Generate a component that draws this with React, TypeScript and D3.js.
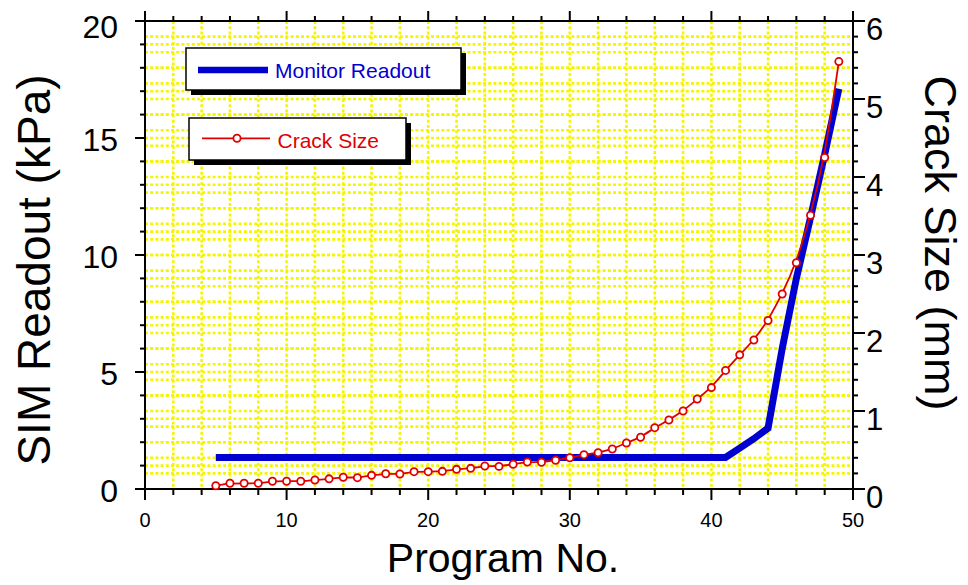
import React from "react";
import * as d3 from "d3";

const programNo = d3.range(5, 50);
const monitorReadout = [
  1.35, 1.35, 1.35, 1.35, 1.35, 1.35, 1.35, 1.35, 1.35, 1.35,
  1.35, 1.35, 1.35, 1.35, 1.35, 1.35, 1.35, 1.35, 1.35, 1.35,
  1.35, 1.35, 1.35, 1.35, 1.35, 1.35, 1.35, 1.35, 1.35, 1.35,
  1.35, 1.35, 1.35, 1.35, 1.35, 1.35, 1.35,
  1.75, 2.15, 2.6, 6.0, 9.0, 11.6, 14.3, 17.1,
];
const crackSize = [
  0.042, 0.073, 0.073, 0.073, 0.099, 0.1, 0.1, 0.115, 0.13, 0.15,
  0.145, 0.175, 0.196, 0.192, 0.222, 0.222, 0.226, 0.252, 0.265, 0.295,
  0.29, 0.317, 0.346, 0.342, 0.368, 0.4, 0.44, 0.465, 0.513, 0.59,
  0.663, 0.786, 0.885, 1.0, 1.154, 1.3, 1.52, 1.72, 1.91, 2.16,
  2.5, 2.9, 3.51, 4.25, 5.48,
];
const xTickLabels = [0, 10, 20, 30, 40, 50];
const leftTickLabels = [0, 5, 10, 15, 20];
const rightTickLabels = [0, 1, 2, 3, 4, 5, 6];

const FONT = "'Liberation Sans', Arial, sans-serif";
const BLUE = "#0000d0";
const RED = "#e00000";
const YELLOW = "#f5f500";

export default function App() {
  const L = 145, R = 853, T = 21, B = 489;
  const x = d3.scaleLinear().domain([0, 50]).range([L, R]);
  const yL = d3.scaleLinear().domain([0, 20]).range([B, T]);
  const yR = d3.scaleLinear().domain([0, 6]).range([B, T]);

  const xTicks = d3.range(0, 51, 2);
  const lTicks = d3.range(0, 21, 1);
  const rTicks = d3.range(0, 31, 1).map((i) => i * 0.2);

  const blueLine = d3
    .line<number>()
    .x((_, i) => x(programNo[i]))
    .y((d) => yL(d))(monitorReadout) as string;
  const redLine = d3
    .line<number>()
    .x((_, i) => x(programNo[i]))
    .y((d) => yR(d))
    .curve(d3.curveBasis)(crackSize) as string;

  const gridV = xTicks.filter((v) => v > 0 && v < 50);
  const gridHL = lTicks.filter((v) => v > 0 && v < 20);
  const gridHR = rTicks.filter((v) => v > 0.01 && v < 5.99);

  return (
    <svg
      width={968}
      height={585}
      style={{ position: "absolute", left: 0, top: 0, background: "#fff" }}
      fontFamily={FONT}
    >
      <rect x={0} y={0} width={968} height={585} fill="#fff" />
      {/* grid */}
      <g stroke={YELLOW} strokeWidth={2.6} strokeDasharray="3,2.2">
        {gridV.map((v) => (
          <line key={"v" + v} x1={x(v)} x2={x(v)} y1={T} y2={B} />
        ))}
        {gridHL.map((v) => (
          <line key={"hl" + v} x1={L} x2={R} y1={yL(v)} y2={yL(v)} />
        ))}
        {gridHR.map((v) => (
          <line key={"hr" + v} x1={L} x2={R} y1={yR(v)} y2={yR(v)} />
        ))}
      </g>

      {/* frame */}
      <rect x={L} y={T} width={R - L} height={B - T} fill="none" stroke="#000" strokeWidth={2} />

      {/* ticks */}
      <g stroke="#000" strokeWidth={2}>
        {xTicks.map((v) => {
          const major = v % 10 === 0;
          return (
            <g key={"xt" + v}>
              <line x1={x(v)} x2={x(v)} y1={B} y2={B + (major ? 11 : 6)} />
              <line x1={x(v)} x2={x(v)} y1={T} y2={T - (major ? 10 : 5)} />
            </g>
          );
        })}
        {lTicks.map((v) => (
          <line key={"lt" + v} x1={L} x2={L - (v % 5 === 0 ? 10 : 5)} y1={yL(v)} y2={yL(v)} />
        ))}
        {rTicks.map((v, i) => (
          <line key={"rt" + i} x1={R} x2={R + (i % 5 === 0 ? 12 : 5)} y1={yR(v)} y2={yR(v)} />
        ))}
      </g>

      {/* tick labels */}
      <g fontSize={20} textAnchor="middle" fill="#000">
        {xTickLabels.map((v) => (
          <text key={"xl" + v} x={x(v)} y={B + 38}>
            {v}
          </text>
        ))}
      </g>
      <g fontSize={32} textAnchor="end" fill="#000">
        {leftTickLabels.map((v) => (
          <text key={"ll" + v} x={118} y={yL(v) + (v === 20 ? 17 : 13)}>
            {v}
          </text>
        ))}
      </g>
      <g fontSize={31} textAnchor="start" fill="#000">
        {rightTickLabels.map((v) => (
          <text key={"rl" + v} x={866} y={yR(v) + 19}>
            {v}
          </text>
        ))}
      </g>

      {/* axis titles */}
      <text fontSize={46} textAnchor="middle" transform={`translate(50,270) rotate(-90)`}>
        SIM Readout (kPa)
      </text>
      <text fontSize={45} textAnchor="middle" transform={`translate(925,243) rotate(90)`}>
        Crack Size (mm)
      </text>
      <text fontSize={41} textAnchor="middle" x={503} y={572}>
        Program No.
      </text>

      {/* series */}
      <path d={blueLine} fill="none" stroke={BLUE} strokeWidth={7} strokeLinejoin="miter" />
      <path d={redLine} fill="none" stroke={RED} strokeWidth={1.8} />
      {crackSize.map((v, i) => (
        <circle
          key={"c" + i}
          cx={x(programNo[i])}
          cy={yR(v)}
          r={3.6}
          fill="#fff"
          stroke={RED}
          strokeWidth={1.8}
        />
      ))}

      {/* legend 1 */}
      <rect x={191} y={53} width={275} height={42} fill="#000" />
      <rect x={186} y={48} width={275} height={42} fill="#fff" stroke="#000" strokeWidth={1.5} />
      <line x1={198} x2={268} y1={70} y2={70} stroke={BLUE} strokeWidth={6.5} />
      <text x={275} y={78} fontSize={21} fill={BLUE}>
        Monitor Readout
      </text>

      {/* legend 2 */}
      <rect x={194} y={123} width={217} height={42} fill="#000" />
      <rect x={189} y={118} width={217} height={42} fill="#fff" stroke="#000" strokeWidth={1.5} />
      <line x1={202} x2={270} y1={138.3} y2={138.3} stroke={RED} strokeWidth={1.8} />
      <circle cx={237} cy={138.3} r={3.6} fill="#fff" stroke={RED} strokeWidth={1.8} />
      <text x={277.5} y={148.3} fontSize={21} fill={RED}>
        Crack Size
      </text>
    </svg>
  );
}
